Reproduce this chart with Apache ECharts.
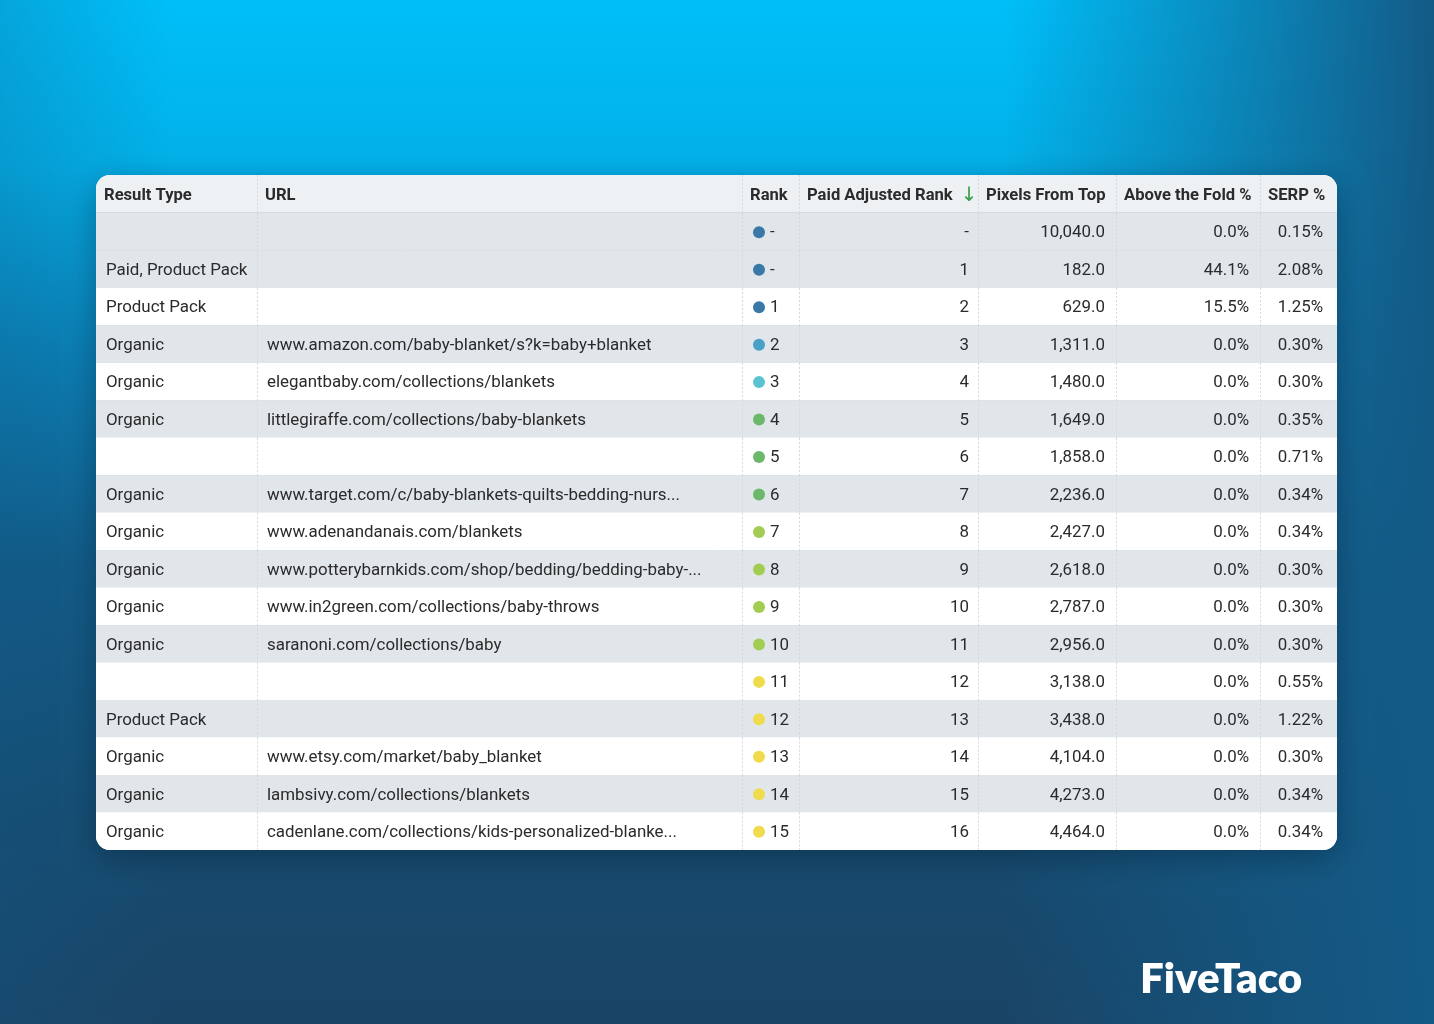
<!DOCTYPE html>
<html>
<head>
<meta charset="utf-8">
<title>SERP results table</title>
<script src="https://cdn.jsdelivr.net/npm/echarts@6/dist/echarts.min.js"></script>
<style>
  html, body { margin: 0; padding: 0; }
  #chart { width: 1434px; height: 1024px; }
</style>
</head>
<body>
<div id="chart"></div>
<script>
// table data, one entry per row (top to bottom)
const columns = ['Result Type', 'URL', 'Rank', 'Paid Adjusted Rank', 'Pixels From Top', 'Above the Fold %', 'SERP %']
const resultTypes = ['', 'Paid, Product Pack', 'Product Pack', 'Organic', 'Organic', 'Organic', '', 'Organic', 'Organic',
  'Organic', 'Organic', 'Organic', '', 'Product Pack', 'Organic', 'Organic', 'Organic']
const urls = [
  '', '', '',
  'www.amazon.com/baby-blanket/s?k=baby+blanket',
  'elegantbaby.com/collections/blankets',
  'littlegiraffe.com/collections/baby-blankets',
  '',
  'www.target.com/c/baby-blankets-quilts-bedding-nurs...',
  'www.adenandanais.com/blankets',
  'www.potterybarnkids.com/shop/bedding/bedding-baby-...',
  'www.in2green.com/collections/baby-throws',
  'saranoni.com/collections/baby',
  '', '',
  'www.etsy.com/market/baby_blanket',
  'lambsivy.com/collections/blankets',
  'cadenlane.com/collections/kids-personalized-blanke...',
]
const ranks = [null, null, 1, 2, 3, 4, 5, 6, 7, 8, 9, 10, 11, 12, 13, 14, 15]
const paidRanks = [null, 1, 2, 3, 4, 5, 6, 7, 8, 9, 10, 11, 12, 13, 14, 15, 16]
const pixelsFromTop = [10040, 182, 629, 1311, 1480, 1649, 1858, 2236, 2427, 2618, 2787, 2956, 3138, 3438, 4104, 4273, 4464]
const aboveFold = [0, 44.1, 15.5, 0, 0, 0, 0, 0, 0, 0, 0, 0, 0, 0, 0, 0, 0]
const serp = [0.15, 2.08, 1.25, 0.30, 0.30, 0.35, 0.71, 0.34, 0.34, 0.30, 0.30, 0.30, 0.55, 1.22, 0.30, 0.34, 0.34]

// layout
const colEdges = [0, 161, 646, 703, 882, 1020, 1164, 1241] // column boundaries, px from table left
const TBL_LEFT = 96
const TBL_WIDTH = 1241
const TBL_TOP = 175
const HEAD_H = 38
const BODY_H = 637
const RADIUS = 14

const TEXT = '#2b2b2b'
const FONT = '16.9px Roboto'
const FONT_BOLD = 'bold 16.6px Roboto'
const SHADE = '#e1e6ea'
const LINE = '#d6dce1'
const TEXT_DY = 1.5

function dotColor(rank) {
  if (rank == null || rank <= 1) return '#3a78a7'
  if (rank === 2) return '#489fc7'
  if (rank === 3) return '#5bc3cf'
  if (rank <= 6) return '#6bb86b'
  if (rank <= 10) return '#a2cd52'
  return '#efdb4b'
}

const fmtPixels = (v) => v.toLocaleString('en-US', { minimumFractionDigits: 1, maximumFractionDigits: 1 })

function cellText(text, x, y, align, font) {
  return {
    type: 'text',
    style: { text, x, y: y + TEXT_DY, fill: TEXT, font: font || FONT, textAlign: align, textVerticalAlign: 'middle' },
  }
}

function vLines(xs, top, h) {
  const out = []
  for (let k = 1; k < xs.length - 1; k++) {
    out.push({
      type: 'line',
      shape: { x1: xs[k] + 0.5, y1: top, x2: xs[k] + 0.5, y2: top + h },
      style: { stroke: '#d3d9de', lineWidth: 1, lineDash: [2, 2] },
    })
  }
  return out
}

function renderRow(params, api) {
  const i = api.value(0)
  const yc = api.coord([0, i])[1]
  const h = api.size([0, 1])[1]
  const xs = colEdges.map((e) => api.coord([e, i])[0])
  const top = yc - h / 2
  const last = i === resultTypes.length - 1
  const shaded = i === 0 || i % 2 === 1
  const children = [{
    type: 'rect',
    shape: { x: xs[0], y: top, width: xs[7] - xs[0], height: h, r: last ? [0, 0, RADIUS, RADIUS] : 0 },
    style: { fill: shaded ? SHADE : '#ffffff' },
  }]
  if (!last) {
    children.push({
      type: 'line',
      shape: { x1: xs[0], y1: Math.round(top + h) + 0.5, x2: xs[7], y2: Math.round(top + h) + 0.5 },
      style: { stroke: LINE, lineWidth: 1 },
    })
  }
  children.push(...vLines(xs, top, h))
  children.push(cellText(resultTypes[i], xs[0] + 10, yc, 'left'))
  children.push(cellText(urls[i], xs[1] + 10, yc, 'left'))
  children.push({
    type: 'circle',
    shape: { cx: xs[2] + 17, cy: yc + 0.5, r: 6 },
    style: { fill: dotColor(ranks[i]) },
  })
  children.push(cellText(ranks[i] == null ? '-' : String(ranks[i]), xs[2] + 28, yc, 'left'))
  children.push(cellText(paidRanks[i] == null ? '-' : String(paidRanks[i]), xs[4] - 9, yc, 'right'))
  children.push(cellText(fmtPixels(pixelsFromTop[i]), xs[5] - 11, yc, 'right'))
  children.push(cellText(aboveFold[i].toFixed(1) + '%', xs[6] - 11, yc, 'right'))
  children.push(cellText(serp[i].toFixed(2) + '%', xs[7] - 14, yc, 'right'))
  return { type: 'group', children }
}

function renderHeader(params, api) {
  const yc = api.coord([0, 0])[1]
  const h = api.size([0, 1])[1]
  const xs = colEdges.map((e) => api.coord([e, 0])[0])
  const top = yc - h / 2
  const children = [{
    type: 'rect',
    shape: { x: xs[0], y: top, width: xs[7] - xs[0], height: h, r: [RADIUS, RADIUS, 0, 0] },
    style: { fill: '#eef1f3' },
  }, {
    type: 'line',
    shape: { x1: xs[0], y1: Math.round(top + h) - 0.5, x2: xs[7], y2: Math.round(top + h) - 0.5 },
    style: { stroke: LINE, lineWidth: 1 },
  }]
  children.push(...vLines(xs, top, h))
  columns.forEach((name, k) => {
    const t = cellText(k === 3 ? name + '{arrow|↓}' : name, xs[k] + 8, yc, 'left', FONT_BOLD)
    if (k === 3) {
      t.style.rich = { arrow: { fill: '#3a9e48', font: '20px "DejaVu Sans"', padding: [0, 0, 0, 8] } }
    }
    children.push(t)
  })
  return { type: 'group', children }
}

const chart = echarts.init(document.getElementById('chart'))

chart.setOption({
  animation: false,
  backgroundColor: new echarts.graphic.LinearGradient(0, 0, 0, 1, [
    { offset: 0, color: '#00bff9' },
    { offset: 0.16, color: '#02b0e8' },
    { offset: 0.34, color: '#0a82b8' },
    { offset: 0.55, color: '#125a86' },
    { offset: 0.8, color: '#164b70' },
    { offset: 1, color: '#1a4466' },
  ]),
  graphic: [
    {
      type: 'rect',
      z: 0,
      shape: { x: 0, y: 0, width: 1434, height: 1024 },
      style: {
        fill: new echarts.graphic.LinearGradient(0, 0, 1, 0, [
          { offset: 0, color: 'rgba(18,90,135,0.25)' },
          { offset: 0.12, color: 'rgba(18,90,135,0)' },
          { offset: 0.7, color: 'rgba(19,94,140,0)' },
          { offset: 1, color: 'rgba(19,90,134,1)' },
        ]),
      },
      silent: true,
    },
    {
      type: 'rect',
      z: 1,
      shape: { x: TBL_LEFT, y: TBL_TOP, width: TBL_WIDTH, height: HEAD_H + BODY_H, r: RADIUS },
      style: { fill: '#ffffff', shadowBlur: 30, shadowColor: 'rgba(0,20,40,0.35)', shadowOffsetY: 8 },
      silent: true,
    },
    {
      type: 'text',
      z: 1,
      x: 1140,
      y: 979,
      style: {
        text: 'FiveTaco',
        fill: '#ffffff',
        font: '800 42px Lato',
        textAlign: 'left',
        textVerticalAlign: 'middle',
      },
      silent: true,
    },
  ],
  grid: [
    { left: TBL_LEFT, top: TBL_TOP, width: TBL_WIDTH, height: HEAD_H },
    { left: TBL_LEFT, top: TBL_TOP + HEAD_H, width: TBL_WIDTH, height: BODY_H },
  ],
  xAxis: [
    { type: 'value', gridIndex: 0, min: 0, max: TBL_WIDTH, show: false },
    { type: 'value', gridIndex: 1, min: 0, max: TBL_WIDTH, show: false },
  ],
  yAxis: [
    { type: 'category', gridIndex: 0, data: ['header'], show: false },
    { type: 'category', gridIndex: 1, data: resultTypes.map((_, i) => i), inverse: true, show: false },
  ],
  series: [
    {
      type: 'custom',
      z: 5,
      xAxisIndex: 0,
      yAxisIndex: 0,
      renderItem: renderHeader,
      data: [[0]],
      encode: { y: 0 },
      silent: true,
    },
    {
      type: 'custom',
      z: 5,
      xAxisIndex: 1,
      yAxisIndex: 1,
      renderItem: renderRow,
      data: resultTypes.map((_, i) => [i]),
      encode: { y: 0 },
      silent: true,
    },
  ],
})
</script>
</body>
</html>
